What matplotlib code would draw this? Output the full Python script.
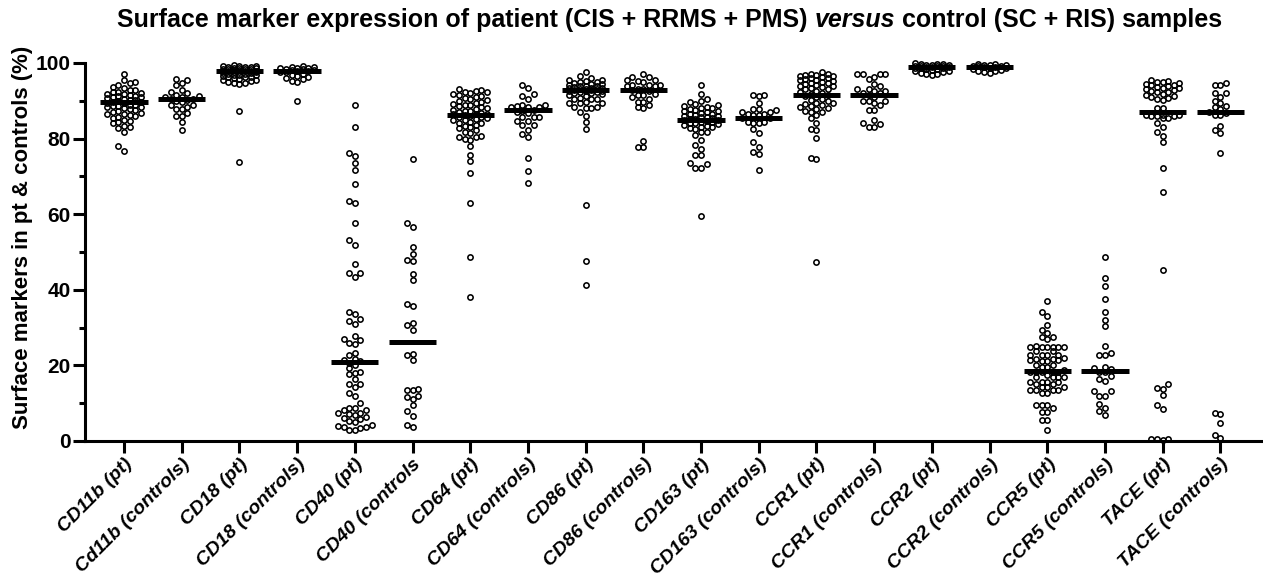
import matplotlib
import matplotlib.pyplot as plt
import numpy as np

matplotlib.use("agg")

plt.rcParams["font.family"] = ["Liberation Sans", "DejaVu Sans"]

labels = [
    "CD11b (pt)", "Cd11b (controls)", "CD18 (pt)", "CD18 (controls)",
    "CD40 (pt)", "CD40 (controls", "CD64 (pt)", "CD64 (controls)",
    "CD86 (pt)", "CD86 (controls)", "CD163 (pt)", "CD163 (controls)",
    "CCR1 (pt)", "CCR1 (controls)", "CCR2 (pt)", "CCR2 (controls)",
    "CCR5 (pt)", "CCR5 (controls)", "TACE (pt)", "TACE (controls)",
]

cd11b_pt = [97.0, 95.5, 94.9, 94.6, 94.3, 93.7, 93.5, 92.9, 92.8, 92.4, 92.2, 92.0, 91.9, 91.8,
            91.6, 91.4, 91.3, 91.1, 90.9, 90.7, 90.5, 90.3, 90.1, 89.9, 89.8, 89.7, 89.5, 89.3,
            89.0, 88.9, 88.7, 88.5, 88.4, 88.3, 88.0, 87.8, 87.6, 87.3, 87.1, 86.9, 86.6, 86.5,
            86.2, 85.9, 85.8, 85.5, 85.0, 84.7, 84.3, 84.0, 83.3, 83.1, 82.7, 81.8, 78.0, 76.7]
cd11b_ctrl = [95.8, 95.5, 94.7, 94.1, 92.8, 92.4, 92.0, 91.6, 91.4, 91.1, 90.9, 90.6, 90.4,
              90.2, 90.0, 89.6, 88.9, 88.8, 88.4, 87.8, 87.7, 86.7, 86.1, 86.0, 84.5, 82.3]
cd18_pt = [99.6, 99.3, 99.2, 99.1, 99.0, 99.0, 98.9, 98.8, 98.7, 98.6, 98.5, 98.5, 98.4, 98.3,
           98.2, 98.1, 98.0, 98.0, 97.9, 97.8, 97.8, 97.7, 97.6, 97.5, 97.4, 97.3, 97.2, 97.0,
           96.9, 96.8, 96.7, 96.5, 96.4, 96.3, 96.2, 96.0, 95.8, 95.6, 95.5, 95.3, 95.0, 94.8,
           94.7, 94.5, 87.3, 73.7]
cd18_ctrl = [99.2, 99.0, 98.9, 98.8, 98.7, 98.6, 98.5, 98.3, 98.2, 98.1, 98.0, 97.9, 97.7,
             97.5, 97.2, 96.8, 96.5, 96.3, 96.0, 95.7, 95.3, 95.0, 90.0]
cd40_pt = [89.0, 83.0, 76.1, 75.5, 73.5, 71.7, 67.9, 63.5, 62.9, 57.6, 53.2, 51.9, 46.7, 44.4,
           44.4, 43.5, 34.0, 33.6, 32.2, 31.8, 31.0, 27.8, 26.9, 26.6, 25.7, 25.8, 23.3, 22.7,
           21.8, 21.4, 21.2, 20.7, 20.1, 19.2, 18.2, 18.1, 17.6, 16.4, 15.2, 15.1, 14.2, 12.7,
           12.0, 10.1, 8.8, 8.7, 8.2, 8.1, 7.5, 7.3, 7.2, 6.9, 6.3, 6.0, 5.9, 5.3, 5.0, 4.2,
           4.1, 3.8, 3.7, 3.4, 2.9, 2.8]
cd40_ctrl = [74.7, 57.7, 56.6, 51.3, 49.6, 47.8, 47.7, 44.2, 42.6, 36.2, 35.8, 31.3, 30.7,
             29.4, 23.1, 22.8, 21.4, 13.7, 13.6, 13.5, 11.8, 11.7, 11.1, 9.6, 8.0, 6.7, 4.2, 3.8]
cd64_pt = [93.0, 92.9, 92.6, 92.4, 92.2, 92.0, 91.7, 91.5, 91.3, 91.0, 90.8, 90.5, 90.2, 90.0,
           89.8, 89.5, 89.2, 89.0, 88.8, 88.5, 88.3, 88.0, 87.8, 87.6, 87.4, 87.2, 87.0, 86.8,
           86.6, 86.5, 86.4, 86.2, 86.0, 85.8, 85.6, 85.4, 85.2, 85.0, 84.8, 84.5, 84.2, 84.0,
           83.7, 83.3, 83.0, 82.7, 82.2, 81.8, 81.5, 80.7, 80.5, 80.4, 79.8, 79.6, 78.0, 75.7,
           74.2, 71.0, 62.9, 48.8, 38.2]
cd64_ctrl = [94.1, 93.3, 91.7, 91.3, 90.4, 88.8, 88.8, 88.6, 88.4, 88.4, 88.3, 87.6, 87.2,
             87.0, 86.9, 85.7, 85.7, 85.6, 84.7, 84.6, 83.6, 83.5, 82.2, 81.1, 80.4, 74.9,
             71.5, 68.3]
cd86_pt = [97.7, 96.6, 96.0, 95.6, 95.4, 95.2, 95.0, 94.9, 94.7, 94.5, 94.4, 94.2, 94.0, 93.9,
           93.8, 93.6, 93.5, 93.4, 93.3, 93.2, 93.1, 93.0, 92.9, 92.8, 92.7, 92.6, 92.5, 92.4,
           92.3, 92.1, 92.0, 91.8, 91.6, 91.4, 90.8, 90.6, 90.5, 90.4, 89.6, 89.5, 89.4, 89.3,
           88.4, 88.3, 88.2, 88.1, 87.1, 86.1, 84.5, 82.5, 62.4, 47.6, 41.3]
cd86_ctrl = [97.1, 96.4, 96.3, 95.5, 95.4, 95.3, 95.1, 94.2, 94.2, 94.1, 94.0, 93.9, 93.2,
             93.0, 92.8, 92.6, 91.7, 91.6, 91.5, 91.1, 90.4, 89.8, 89.7, 88.9, 88.3, 88.2,
             79.3, 77.8, 77.7]
cd163_pt = [94.2, 91.8, 90.4, 90.0, 89.6, 89.2, 88.9, 88.6, 88.4, 88.2, 88.0, 87.8, 87.6, 87.4,
            87.2, 87.0, 86.8, 86.6, 86.5, 86.3, 86.1, 86.0, 85.8, 85.6, 85.4, 85.2, 85.1, 85.0,
            84.9, 84.7, 84.5, 84.4, 84.2, 84.0, 83.8, 83.6, 83.4, 83.2, 83.0, 82.8, 82.5, 81.8,
            81.7, 80.9, 79.6, 78.3, 77.3, 75.7, 75.6, 73.6, 73.2, 72.3, 72.2, 59.6]
cd163_ctrl = [91.6, 91.5, 91.4, 89.5, 87.8, 87.7, 87.6, 87.1, 87.0, 86.5, 86.4, 86.3, 86.2,
              85.5, 85.4, 84.3, 84.3, 84.2, 84.2, 82.5, 81.6, 79.2, 77.8, 76.5, 75.8, 71.7]
ccr1_pt = [97.5, 97.2, 97.0, 96.9, 96.7, 96.6, 96.5, 96.3, 96.1, 96.0, 95.8, 95.6, 95.4, 95.2,
           95.0, 94.8, 94.6, 94.4, 94.2, 94.0, 93.8, 93.6, 93.4, 93.2, 93.0, 92.7, 92.4, 92.1,
           91.9, 91.6, 91.4, 91.0, 90.6, 90.2, 89.9, 89.5, 89.3, 89.2, 88.9, 88.6, 88.4, 88.1,
           87.8, 87.3, 87.1, 87.0, 86.2, 85.4, 84.0, 82.5, 82.4, 80.1, 74.8, 74.5, 47.3]
ccr1_ctrl = [97.2, 97.2, 97.1, 97.0, 96.4, 95.8, 94.5, 94.0, 93.1, 93.1, 92.6, 92.6, 92.0,
             92.0, 91.5, 91.1, 90.0, 90.0, 90.0, 89.5, 88.9, 87.6, 87.6, 84.9, 84.0, 83.8,
             83.2, 83.2]
ccr2_pt = [99.9, 99.8, 99.8, 99.7, 99.6, 99.5, 99.4, 99.3, 99.3, 99.2, 99.1, 99.0, 99.0, 98.9,
           98.8, 98.7, 98.6, 98.5, 98.4, 98.2, 98.0, 97.8, 97.6, 97.4, 97.2, 97.0, 96.8]
ccr2_ctrl = [99.8, 99.7, 99.6, 99.5, 99.4, 99.3, 99.2, 99.1, 99.0, 98.9, 98.8, 98.6, 98.4,
             98.2, 98.0, 97.8, 97.5, 97.3]
ccr5_pt = [37.0, 34.2, 33.1, 30.7, 29.4, 28.5, 27.6, 27.5, 26.9, 25.1, 25.0, 25.0, 24.9, 24.9,
           25.0, 24.8, 23.8, 23.7, 22.8, 22.8, 22.7, 22.7, 21.9, 21.8, 21.8, 21.3, 21.2, 21.2,
           21.3, 20.1, 20.0, 19.7, 19.6, 18.9, 18.3, 18.3, 18.2, 18.2, 18.3, 17.5, 17.0, 17.0,
           16.9, 16.9, 15.7, 15.7, 15.6, 15.6, 15.1, 15.0, 14.4, 14.4, 14.3, 13.5, 13.5, 13.4,
           13.4, 12.8, 12.7, 9.5, 9.5, 9.4, 8.7, 7.8, 7.7, 5.6, 5.5, 3.0]
ccr5_ctrl = [48.7, 43.1, 41.1, 37.6, 34.1, 32.1, 30.4, 25.1, 23.4, 22.8, 22.8, 19.7, 19.2,
             19.0, 18.2, 18.2, 17.2, 16.5, 15.8, 13.2, 13.1, 11.9, 11.9, 9.8, 8.8, 7.9, 6.9]
tace_pt = [95.5, 95.3, 95.1, 94.9, 94.7, 94.5, 94.3, 94.1, 93.9, 93.7, 93.5, 93.3, 93.1, 92.9,
           92.6, 92.4, 92.2, 91.9, 91.6, 91.3, 91.0, 90.7, 90.5, 90.2, 88.1, 88.0, 86.3, 86.2,
           86.2, 86.1, 86.1, 86.0, 85.5, 85.4, 84.2, 83.1, 81.8, 80.8, 79.2, 72.3, 66.0, 45.2,
           15.1, 13.9, 13.8, 12.3, 9.6, 8.4, 0.5, 0.4, 0.4, 0.3]
tace_ctrl = [94.6, 94.2, 94.2, 92.0, 92.0, 91.0, 90.0, 89.4, 88.6, 88.4, 87.7, 87.1, 86.9,
             86.2, 86.2, 83.3, 82.3, 81.6, 76.1, 7.5, 7.2, 4.8, 1.5, 0.9]

groups = [cd11b_pt, cd11b_ctrl, cd18_pt, cd18_ctrl, cd40_pt, cd40_ctrl, cd64_pt, cd64_ctrl,
          cd86_pt, cd86_ctrl, cd163_pt, cd163_ctrl, ccr1_pt, ccr1_ctrl, ccr2_pt, ccr2_ctrl,
          ccr5_pt, ccr5_ctrl, tace_pt, tace_ctrl]
medians = [89.8, 90.4, 97.9, 98.0, 21.0, 26.3, 86.3, 87.6, 92.9, 92.9, 85.0, 85.5,
           91.6, 91.5, 99.0, 99.0, 18.6, 18.5, 87.0, 87.0]


def swarm_offsets(values, col_px, diam_px, sy, max_cols=3):
    """Prism-like column swarm: returns horizontal offsets in pixels."""
    values = np.asarray(values)
    order = np.argsort(values)
    ks = [0]
    for k in range(1, max_cols + 1):
        ks += [-k, k]
    placed = []
    offsets = np.zeros(len(values))
    for i in order:
        y = values[i] * sy
        chosen, fallback, best_gap = None, 0, -1.0
        for k in ks:
            x = k * col_px
            gap = min((np.hypot(x - px, y - py) for px, py in placed), default=np.inf)
            if gap >= diam_px - 1e-6:
                chosen = k
                break
            if gap > best_gap:
                best_gap, fallback = gap, k
        if chosen is None:
            chosen = fallback
        offsets[i] = chosen * col_px
        placed.append((chosen * col_px, y))
    return offsets


fig = plt.figure(figsize=(12.63, 5.82), dpi=100)
ax = fig.add_axes([85 / 1263, 141 / 582, 1 - 85 / 1263, (441 - 63) / 582])
ax.set_xlim(-0.676, 19.74)
ax.set_ylim(0, 100)

# pixel scales of the data axes
p0 = ax.transData.transform((0, 0))
p1 = ax.transData.transform((1, 1))
sx, sy = p1[0] - p0[0], p1[1] - p0[1]

for i, vals in enumerate(groups):
    off = swarm_offsets(vals, 5.6, 5.6, sy) / sx
    ax.plot(i + off, vals, "o", ms=3.8, mfc="none", mec="black", mew=1.15,
            ls="none", clip_on=False, zorder=2)
    ax.hlines(medians[i], i - 0.41, i + 0.41, color="black", lw=3.6, zorder=3)

for side in ["top", "right"]:
    ax.spines[side].set_visible(False)
for side in ["left", "bottom"]:
    ax.spines[side].set_linewidth(2.2)

ax.set_yticks(range(0, 101, 20))
ax.set_yticks(range(10, 100, 20), minor=True)
ax.tick_params(axis="y", which="major", length=8.5, width=2.2, labelsize=15, pad=2)
ax.tick_params(axis="y", which="minor", length=4.5, width=2.2)
ax.tick_params(axis="x", which="major", length=8.5, width=2.2, pad=2)
for lab in ax.get_yticklabels():
    lab.set_fontweight("bold")

ax.set_xticks(range(len(labels)))
ax.set_xticklabels(labels, rotation=45, ha="right", rotation_mode="anchor",
                   fontstyle="italic", fontweight="bold", fontsize=14)

ax.set_ylabel("Surface markers in pt & controls (%)", fontsize=16, fontweight="bold")
ax.yaxis.set_label_coords(-0.044, 0.54)

# title with italic "versus"
renderer = fig.canvas.get_renderer()
parts = [("Surface marker expression of patient (CIS + RRMS + PMS) ", "normal"),
         ("versus", "italic"),
         (" control (SC + RIS) samples", "normal")]
texts = []
for s, style in parts:
    t = fig.text(0, 1 - 27 / 582, s, fontsize=18, fontweight="bold", fontstyle=style,
                 va="baseline", ha="left")
    texts.append(t)
widths = [t.get_window_extent(renderer).width for t in texts]
x = 670 - sum(widths) / 2
for t, w in zip(texts, widths):
    t.set_x(x / 1263)
    x += w

fig.savefig("out.png", dpi=100)
